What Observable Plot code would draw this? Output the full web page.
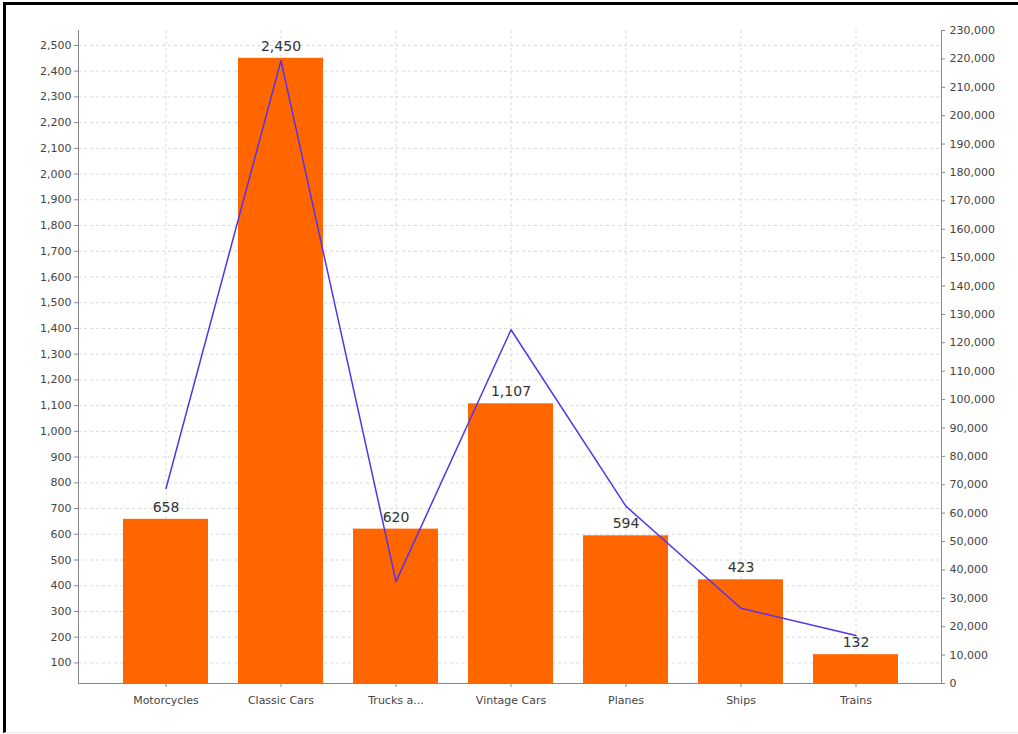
<!DOCTYPE html>
<html>
<head>
<meta charset="utf-8">
<script src="https://cdn.jsdelivr.net/npm/d3@7"></script>
<script src="https://cdn.jsdelivr.net/npm/@observablehq/plot@0.6"></script>
<style>
  html, body { margin: 0; padding: 0; background: #fff; }
  #frame {
    position: absolute; left: 3px; top: 2px;
    width: 1015px; height: 731px;
    border-left: 3px solid #000; border-top: 3px solid #000;
    border-bottom: 1px solid #e4e4e4;
    box-sizing: border-box;
  }
  #chart { position: absolute; left: 0; top: 0; }
</style>
</head>
<body>
<div id="frame"><div id="chart"></div></div>
<script>
const categories = ["Motorcycles", "Classic Cars", "Trucks and Buses", "Vintage Cars", "Planes", "Ships", "Trains"];
const categoryLabels = ["Motorcycles", "Classic Cars", "Trucks a...", "Vintage Cars", "Planes", "Ships", "Trains"];
const quantities = [658, 2450, 620, 1107, 594, 423, 132];
const revenues = [68700, 219400, 35900, 124600, 62400, 26500, 16900];
const leftTicks = [100,200,300,400,500,600,700,800,900,1000,1100,1200,1300,1400,1500,1600,1700,1800,1900,2000,2100,2200,2300,2400,2500];
const rightTicks = [0,10000,20000,30000,40000,50000,60000,70000,80000,90000,100000,110000,120000,130000,140000,150000,160000,170000,180000,190000,200000,210000,220000,230000];

const yDomain = [20, 2558];
const rightDomain = [0, 230000];
const toLeft = d3.scaleLinear(rightDomain, yDomain);

const bars = categories.map((c, i) => ({category: c, value: quantities[i]}));
const line = categories.map((c, i) => ({category: c, value: toLeft(revenues[i])}));
const labelOf = new Map(categories.map((c, i) => [c, categoryLabels[i]]));
const fmt = d3.format(",");

const chart = Plot.plot({
  width: 1012,
  height: 728,
  marginLeft: 72,
  marginRight: 77,
  marginTop: 25,
  marginBottom: 50,
  style: {fontFamily: "DejaVu Sans, sans-serif", fontSize: "11px", color: "#444", background: "transparent"},
  x: {domain: categories, paddingInner: 0.26, paddingOuter: 0.13, insetLeft: 29, insetRight: 27, label: null},
  y: {domain: yDomain, label: null},
  marks: [
    Plot.gridY(leftTicks, {stroke: "#d9d9d9", strokeOpacity: 1, strokeDasharray: "3,3"}),
    Plot.gridX(categories, {stroke: "#d9d9d9", strokeOpacity: 1, strokeDasharray: "3,3"}),
    Plot.barY(bars, {x: "category", y1: 0, y2: "value", fill: "#ff6600", clip: true}),
    Plot.text(bars, {x: "category", y: "value", text: d => fmt(d.value), dy: -12, fontSize: 14, fill: "#333"}),
    Plot.line(line, {x: "category", y: "value", stroke: "#5533ee", strokeWidth: 1.5}),
    Plot.axisY({anchor: "left", ticks: leftTicks, tickFormat: fmt, tickSize: 4, tickPadding: 3, stroke: "#888", fill: "#444", label: null}),
    Plot.axisY({anchor: "right", ticks: rightTicks.map(toLeft), tickFormat: d => fmt(Math.round(toLeft.invert(d))), tickSize: 3, tickPadding: 5, stroke: "#888", fill: "#444", label: null}),
    Plot.axisX({ticks: categories, tickFormat: d => labelOf.get(d), tickSize: 4, tickPadding: 9, stroke: "#888", fill: "#444", label: null}),
    Plot.frame({anchor: "left", stroke: "#888"}),
    Plot.frame({anchor: "right", stroke: "#888"}),
    Plot.frame({anchor: "bottom", stroke: "#888"})
  ]
});
document.getElementById("chart").appendChild(chart);
</script>
</body>
</html>
